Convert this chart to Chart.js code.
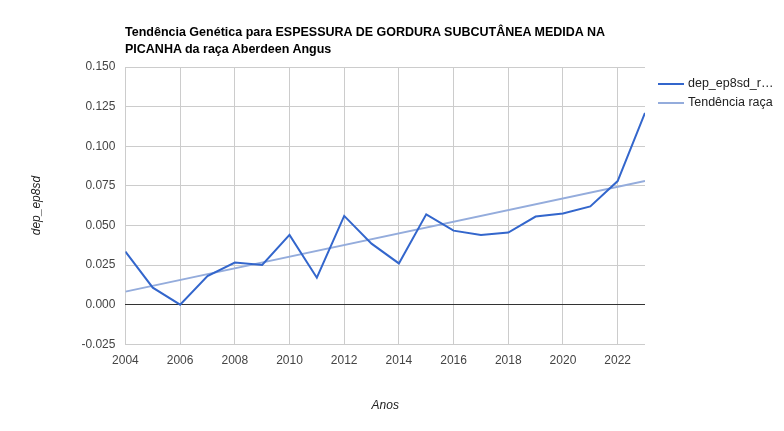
<!DOCTYPE html>
<html><head><meta charset="utf-8">
<script src="https://cdn.jsdelivr.net/npm/chart.js@4"></script>
<style>body{margin:0;background:#fff;font-family:Arial,"Liberation Sans",sans-serif}#w{position:relative;width:784px;height:431px}
#t{position:absolute;left:125px;top:24px;font-size:12.5px;font-weight:bold;color:#000;line-height:17px}
#lg{position:absolute;left:658px;top:74px;font-size:12.5px;color:#222;line-height:19px}
#lg span.l{display:inline-block;width:26px;height:2px;vertical-align:middle;margin-right:4px}
</style></head>
<body><div id="w"><canvas id="c"></canvas>
<div id="t">Tendência Genética para ESPESSURA DE GORDURA SUBCUTÂNEA MEDIDA NA<br>PICANHA da raça Aberdeen Angus</div>
<div id="lg"><div><span class="l" style="background:#3366cc"></span>dep_ep8sd_r…</div><div><span class="l" style="background:#94acdc"></span>Tendência raça</div></div>
</div>
<script>
const years = [2004,2005,2006,2007,2008,2009,2010,2011,2012,2013,2014,2015,2016,2017,2018,2019,2020,2021,2022,2023];
const values = [0.0335,0.0107,0.0,0.018,0.0265,0.025,0.044,0.017,0.056,0.0385,0.026,0.057,0.0467,0.044,0.0455,0.0556,0.0575,0.062,0.078,0.121];
const trendYears = [2004,2023];
const trendValues = [0.0082,0.078];
const yTicks = [-0.025,0,0.025,0.05,0.075,0.1,0.125,0.15];
Chart.defaults.font.family = 'Arial, "Liberation Sans", sans-serif';
Chart.defaults.color = '#444';
new Chart(document.getElementById('c'), {
  type: 'line',
  data: { datasets: [
    { label: 'dep_ep8sd_r…', data: years.map((x,i)=>({x, y: values[i]})), borderColor: '#3366cc', borderWidth: 2, pointRadius: 0, tension: 0 },
    { label: 'Tendência raça', data: trendYears.map((x,i)=>({x, y: trendValues[i]})), borderColor: '#94acdc', borderWidth: 2, pointRadius: 0 }
  ]},
  options: {
    responsive: true, maintainAspectRatio: false, animation: false,
    layout: { padding: { left: 25, right: 139, top: 67, bottom: 14 } },
    plugins: { title: { display: false }, legend: { display: false }, tooltip: { enabled: false } },
    scales: {
      x: { type: 'linear', min: 2004, max: 2023,
        afterBuildTicks: s => { s.ticks = years.filter(y => y % 2 === 0).map(v => ({ value: v })); },
        ticks: { callback: v => String(v), font: { size: 12 }, color: '#444', maxRotation: 0, padding: 9 },
        grid: { color: '#ccc', drawTicks: false }, border: { display: false },
        title: { display: true, text: 'Anos', font: { size: 12, style: 'italic' }, color: '#222', padding: { top: 22 } } },
      y: { min: -0.025, max: 0.15,
        afterBuildTicks: s => { s.ticks = yTicks.map(v => ({ value: v })); },
        ticks: { callback: v => v.toFixed(3), font: { size: 12 }, color: '#444', padding: 10 },
        grid: { color: c => c.tick && c.tick.value === 0 ? '#333' : '#ccc', drawTicks: false }, border: { display: false },
        title: { display: true, text: 'dep_ep8sd', font: { size: 12, style: 'italic' }, color: '#222', padding: { bottom: 28 } } }
    }
  }
});
</script></body></html>
